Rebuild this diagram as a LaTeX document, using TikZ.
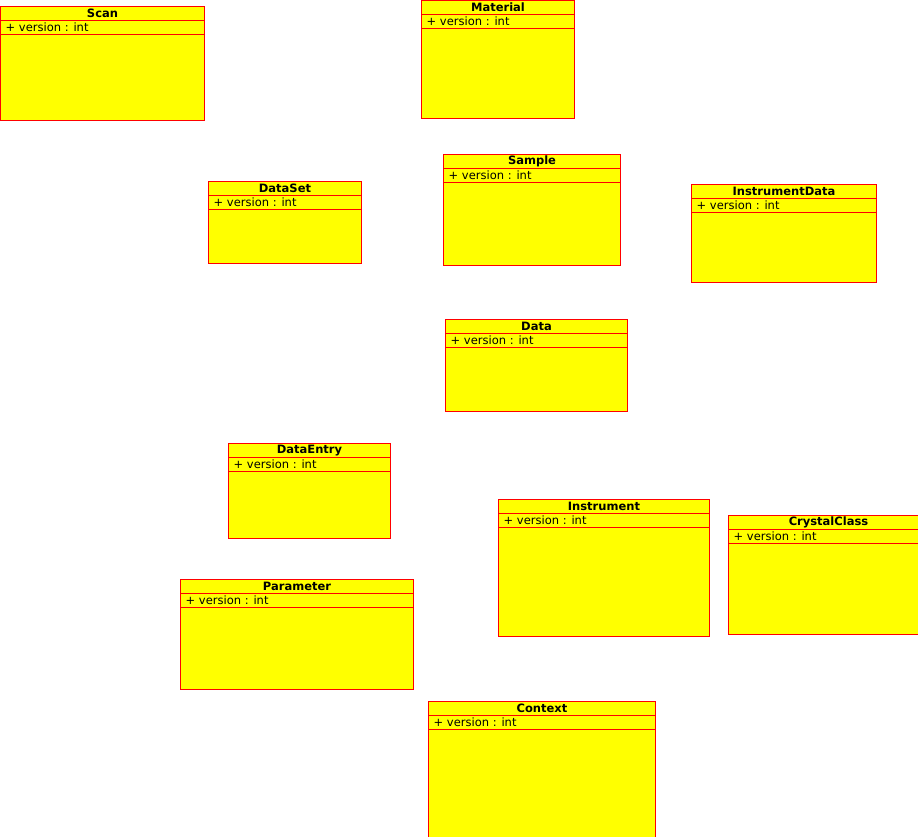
\documentclass[tikz,border=0pt]{standalone}
\usepackage{fontspec}
\setmainfont{DejaVu Sans}
\definecolor{boxfill}{RGB}{255,255,0}
\definecolor{boxline}{RGB}{255,0,0}
\tikzset{
  classbox/.style={fill=boxfill,draw=boxline,line width=1pt},
  classname/.style={font=\fontsize{11.5}{12}\selectfont\bfseries,inner sep=0pt},
  classattr/.style={font=\fontsize{11.5}{12}\selectfont,anchor=west,inner sep=0pt}
}
\begin{document}
\begin{tikzpicture}[x=1pt,y=-1pt]
  \useasboundingbox (0,0) rectangle (918,837);

  % name / left / top / width / height
  \foreach \cname/\x/\y/\w/\h in {Scan/0.5/6.5/204/114,Material/421.5/0.5/153/118,
      Sample/443.5/154.5/177/111,DataSet/208.5/181.5/153/82,
      InstrumentData/691.5/184.5/185/98,Data/445.5/319.5/182/92,
      DataEntry/228.5/443.5/162/95,Instrument/498.5/499.5/211/137,
      CrystalClass/728.5/515.5/200/119,Parameter/180.5/579.5/233/110,
      Context/428.5/701.5/227/150}
  {
    \draw[classbox] (\x,\y) rectangle ({\x+\w},{\y+\h});
    \draw[boxline,line width=1pt] (\x,{\y+14}) -- ({\x+\w},{\y+14});
    \draw[boxline,line width=1pt] (\x,{\y+28}) -- ({\x+\w},{\y+28});
    \node[classname] (\cname-title) at ({\x+\w/2},{\y+7}) {\cname};
    \node[classattr] (\cname-attr) at ({\x+5},{\y+21}) {+ version : int};
  }
\end{tikzpicture}
\end{document}
